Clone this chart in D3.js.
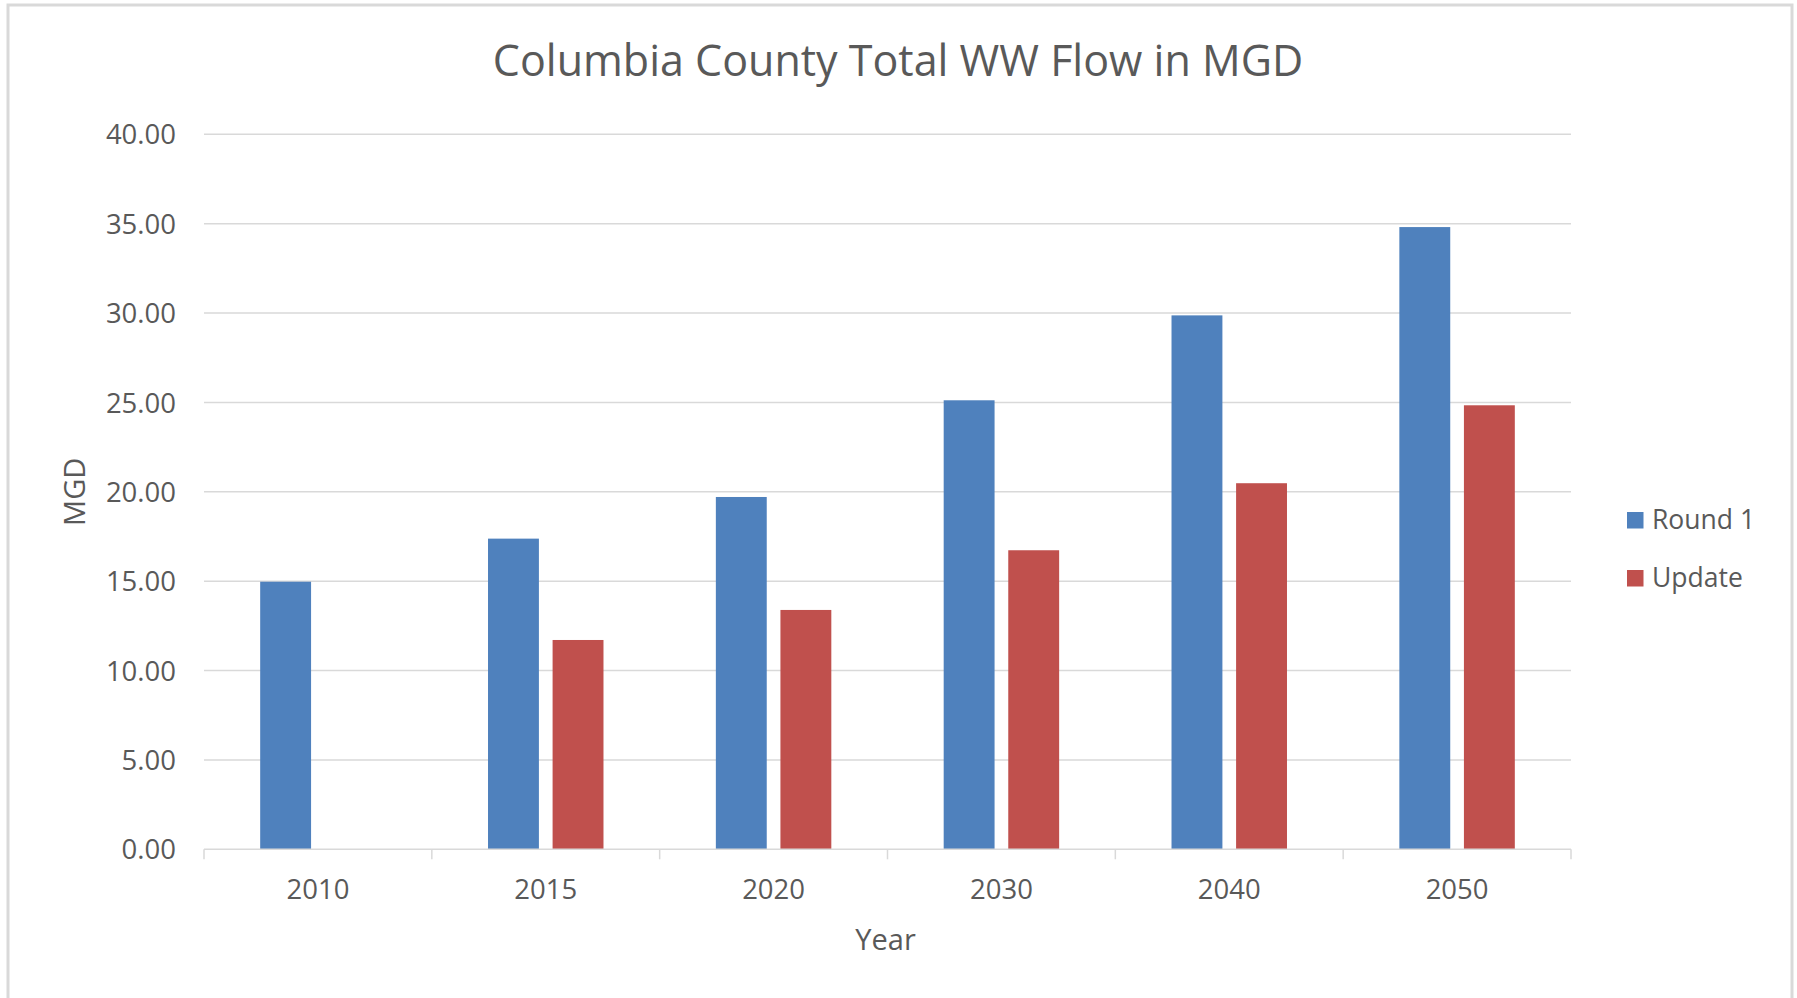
<!DOCTYPE html>
<html>
<head>
<meta charset="utf-8">
<script src="https://cdn.jsdelivr.net/npm/d3@7"></script>
<style>
  html, body { margin: 0; padding: 0; background: #ffffff; }
  svg { display: block; }
  text { font-family: "Open Sans", "Noto Sans", sans-serif; fill: #595959; }
</style>
</head>
<body>
<svg id="chart" width="1797" height="998"></svg>
<script>
// ---- data ----
const categories = ["2010", "2015", "2020", "2030", "2040", "2050"];
const seriesNames = ["Round 1", "Update"];
const round1 = [14.97, 17.38, 19.71, 25.12, 29.87, 34.81];
const update = [null, 11.71, 13.39, 16.73, 20.48, 24.84];
const yTicks = [0, 5, 10, 15, 20, 25, 30, 35, 40];
const titleText = "Columbia County Total WW Flow in MGD";
const xTitle = "Year";
const yTitle = "MGD";
const colors = ["#4F81BD", "#C0504D"];

const seriesValues = [round1, update];

// ---- layout ----
const W = 1797, H = 998;
const plot = { left: 204, right: 1571, top: 134.3, bottom: 849.3 };

const svg = d3.select("#chart");

// chart area border
svg.append("rect")
  .attr("x", 8).attr("y", 5)
  .attr("width", 1784).attr("height", 1010)
  .attr("fill", "#ffffff")
  .attr("stroke", "#D9D9D9")
  .attr("stroke-width", 3);

const x0 = d3.scaleBand().domain(categories).range([plot.left, plot.right]).padding(0);
const x1 = d3.scaleBand().domain(seriesNames).range([0, x0.bandwidth()])
  .paddingInner(0.212).paddingOuter(0.87);
const y = d3.scaleLinear().domain([0, 40]).range([plot.bottom, plot.top]);

// gridlines
svg.append("g")
  .selectAll("line")
  .data(yTicks.filter(d => d > 0))
  .join("line")
  .attr("x1", plot.left).attr("x2", plot.right)
  .attr("y1", d => y(d)).attr("y2", d => y(d))
  .attr("stroke", "#D9D9D9").attr("stroke-width", 1.5);

// y axis labels
const yAxis = d3.axisLeft(y).tickValues(yTicks).tickFormat(d3.format(".2f")).tickSize(0).tickPadding(28);
const gy = svg.append("g").attr("transform", `translate(${plot.left},0)`).call(yAxis);
gy.select(".domain").remove();
gy.selectAll("text")
  .attr("font-family", '"Open Sans", "Noto Sans", sans-serif')
  .attr("font-size", 27.5).attr("fill", "#595959").attr("dy", "0.35em");

// bars
const barData = [];
categories.forEach((c, i) => {
  seriesNames.forEach((s, j) => {
    const v = seriesValues[j][i];
    if (v != null) barData.push({ cat: c, series: s, value: v, color: colors[j] });
  });
});
svg.append("g")
  .selectAll("rect")
  .data(barData)
  .join("rect")
  .attr("x", d => x0(d.cat) + x1(d.series))
  .attr("width", x1.bandwidth())
  .attr("y", d => y(d.value))
  .attr("height", d => y(0) - y(d.value))
  .attr("fill", d => d.color);

// x axis
const xAxis = d3.axisBottom(x0).tickSize(0).tickPadding(0);
const gx = svg.append("g").attr("transform", `translate(0,${plot.bottom})`).call(xAxis);
gx.select(".domain").remove();
gx.selectAll("text")
  .attr("font-family", '"Open Sans", "Noto Sans", sans-serif')
  .attr("font-size", 27.5).attr("fill", "#595959")
  .attr("y", 50).attr("dy", 0);
svg.append("line")
  .attr("x1", plot.left).attr("x2", plot.right)
  .attr("y1", plot.bottom).attr("y2", plot.bottom)
  .attr("stroke", "#D9D9D9").attr("stroke-width", 1.5);
const boundaries = categories.map(c => x0(c)).concat([x0(categories[categories.length - 1]) + x0.bandwidth()]);
svg.append("g").selectAll("line")
  .data(boundaries)
  .join("line")
  .attr("x1", d => d).attr("x2", d => d)
  .attr("y1", plot.bottom).attr("y2", plot.bottom + 10)
  .attr("stroke", "#D9D9D9").attr("stroke-width", 1.5);

// titles
svg.append("text")
  .attr("x", 898).attr("y", 76)
  .attr("text-anchor", "middle")
  .attr("font-size", 43)
  .text(titleText);

svg.append("text")
  .attr("x", (plot.left + plot.right) / 2 - 2).attr("y", 950)
  .attr("text-anchor", "middle")
  .attr("font-size", 29)
  .text(xTitle);

svg.append("text")
  .attr("transform", `translate(85,${(plot.top + plot.bottom) / 2}) rotate(-90)`)
  .attr("text-anchor", "middle")
  .attr("font-size", 29)
  .text(yTitle);

// legend
const legend = svg.append("g").attr("transform", "translate(1627,512)");
const li = legend.selectAll("g").data(seriesNames).join("g")
  .attr("transform", (d, i) => `translate(0,${i * 58})`);
li.append("rect").attr("width", 16.5).attr("height", 16.5).attr("fill", (d, i) => colors[i]);
li.append("text").attr("x", 25).attr("y", 17).attr("font-size", 26.5).text(d => d);
</script>
</body>
</html>
